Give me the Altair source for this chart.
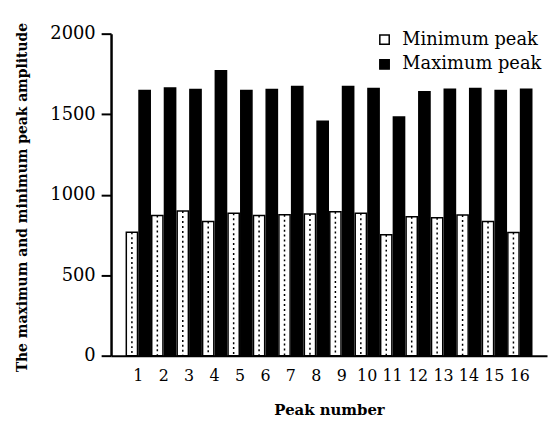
import altair as alt
import pandas as pd

peaks = list(range(1, 17))
min_peak = [767, 870, 898, 833, 884, 870, 875, 880, 894, 884, 751, 863, 857, 874, 833, 765]
max_peak = [1647, 1663, 1653, 1770, 1647, 1653, 1672, 1456, 1672, 1660, 1483, 1639, 1655, 1660, 1647, 1655]
series = ["Minimum peak", "Maximum peak"]

rows = []
for p, mn, mx in zip(peaks, min_peak, max_peak):
    rows.append({"peak": p, "series": series[0], "value": mn})
    rows.append({"peak": p, "series": series[1], "value": mx})
df = pd.DataFrame(rows)

FONT = "DejaVu Serif"

x_enc = alt.X("peak:O", title="Peak number",
              scale=alt.Scale(paddingInner=0.06, paddingOuter=0.6),
              axis=alt.Axis(labelAngle=0, ticks=False, labelPadding=12,
                            labelFontSize=16, labelFont=FONT, labelColor="black",
                            titleFontSize=15, titleFont=FONT, titleFontWeight="bold",
                            titleY=47, titleBaseline="top", titleColor="black",
                            domainColor="black", domainWidth=2))
xo_enc = alt.XOffset("series:N", scale=alt.Scale(domain=series, paddingInner=0.12))
y_enc = alt.Y("value:Q", title="The maximum and minimum peak amplitude",
              scale=alt.Scale(domain=[0, 2000], nice=False),
              axis=alt.Axis(values=[0, 500, 1000, 1500, 2000], grid=False, format="d",
                            tickSize=10, tickWidth=2, tickColor="black", labelPadding=6,
                            labelFontSize=18, labelFont=FONT, labelColor="black",
                            titleFontSize=14, titleFont=FONT, titleFontWeight="bold",
                            titleColor="black", titleX=-82, titleY=165,
                            domainColor="black", domainWidth=2.5))

bars = alt.Chart(df).mark_bar(stroke="black", strokeWidth=1.5).encode(
    x=x_enc,
    xOffset=xo_enc,
    y=y_enc,
    fill=alt.Fill("series:N", scale=alt.Scale(domain=series, range=["white", "black"]),
                  legend=alt.Legend(title=None, orient="none", legendX=267, legendY=-3,
                                    symbolType="square", symbolSize=90,
                                    symbolStrokeColor="black", symbolStrokeWidth=1.5,
                                    labelFont=FONT, labelFontSize=18, labelColor="black",
                                    rowPadding=7, labelOffset=9)),
)

hatch = alt.Chart(df).transform_filter(alt.datum.series == series[0]).mark_rule(
    color="black", strokeWidth=1.5, strokeDash=[2, 3]
).encode(
    x=alt.X("peak:O"),
    xOffset=alt.XOffset("series:N"),
    y=alt.Y("value:Q"),
    y2=alt.datum(0),
)

chart = alt.layer(bars, hatch).properties(
    width=440, height=325,
    padding={"left": 104, "top": 24, "right": 2, "bottom": 62},
    autosize="none",
).configure_view(stroke=None)

chart.save("out.html", embed_options={"renderer": "svg", "actions": False})
